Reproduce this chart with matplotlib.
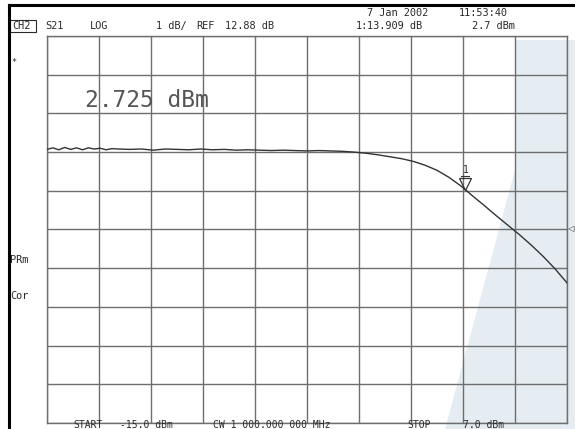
import numpy as np
import matplotlib
matplotlib.use("Agg")
import matplotlib.pyplot as plt
from matplotlib.patches import Polygon, Rectangle
from matplotlib.transforms import ScaledTranslation

# power sweep, CH2 S21 log magnitude
start_dbm = -15.0
stop_dbm = 7.0
ref_db = 12.88
db_per_div = 1.0

power_dbm = [-15.0, -14.75, -14.5, -14.25, -14.0, -13.75, -13.5, -13.25, -13.0,
             -12.75, -12.5, -12.25, -12.0, -11.5, -11.0, -10.5, -10.0, -9.5,
             -9.0, -8.5, -8.0, -7.5, -7.0, -6.5, -6.0, -5.5, -5.0, -4.5, -4.0,
             -3.5, -3.0, -2.5, -2.0, -1.5, -1.0, -0.5, 0.0, 0.5, 1.0, 1.5, 2.0,
             2.5, 2.7, 3.0, 3.5, 4.0, 4.5, 5.0, 5.5, 6.0, 6.5, 7.0]
s21_db = [14.95, 14.99, 14.94, 15.00, 14.95, 14.99, 14.94, 14.99, 14.96,
          14.98, 14.94, 14.97, 14.96, 14.95, 14.96, 14.93, 14.96, 14.95,
          14.94, 14.96, 14.94, 14.95, 14.93, 14.94, 14.93, 14.92, 14.93, 14.92, 14.91,
          14.92, 14.91, 14.90, 14.88, 14.85, 14.81, 14.76, 14.71, 14.64, 14.54, 14.41, 14.23,
          14.01, 13.909, 13.75, 13.50, 13.24, 12.99, 12.74, 12.47, 12.18, 11.86, 11.50]

marker_dbm = 2.7
marker_db = 13.909
readout = "2.725 dBm"

W, H = 575, 429
fig = plt.figure(figsize=(W / 100, H / 100), dpi=100)
fig.patch.set_facecolor("white")


def px(x, y):
    return x / W, 1 - y / H


mono = "DejaVu Sans Mono"
ink = "#2a2a2a"
fs = 7.4


def label(x, y, s, size=fs, **kw):
    fig.text(*px(x, y), s, fontsize=size, family=mono, color=ink,
             va=kw.pop("va", "center"), ha="left", **kw)


# pale band behind the right part of the screen
band = Polygon([px(445, 429), px(575, 429), px(575, 40), px(515, 40), px(515, 170)],
               closed=True, transform=fig.transFigure, facecolor="#e5edf3",
               edgecolor="none", zorder=0)
fig.patches.append(band)

ax = fig.add_axes([47 / W, 1 - 423 / H, 520 / W, 387 / H])
ax.set_zorder(1)
ax.patch.set_alpha(0)
top = ref_db + 5 * db_per_div
bottom = ref_db - 5 * db_per_div
ax.set_xlim(start_dbm, stop_dbm)
ax.set_ylim(bottom, top)
ax.set_xticks(np.linspace(start_dbm, stop_dbm, 11))
ax.set_yticks(np.linspace(bottom, top, 11))
ax.grid(True, color="#6e6e6e", linewidth=1.0)
ax.tick_params(length=0, labelbottom=False, labelleft=False)
for s in ax.spines.values():
    s.set_color("#6e6e6e")
    s.set_linewidth(1.0)

ax.plot(power_dbm, s21_db, color="#333333", linewidth=1.0, zorder=3)

# marker 1: triangle pointing at the trace, bar and number above
lift = ax.transData + ScaledTranslation(0, 4 / 72, fig.dpi_scale_trans)
ax.plot([marker_dbm], [marker_db], marker="v", markersize=8,
        markerfacecolor="none", markeredgecolor="#333333", markeredgewidth=0.9,
        transform=lift, zorder=4)
bar_y = marker_db + 14 / 38.7 * db_per_div
ax.plot([marker_dbm - 0.17, marker_dbm + 0.17], [bar_y, bar_y],
        color="#333333", linewidth=0.8, zorder=4)
ax.annotate("1", (marker_dbm, bar_y), xytext=(0, 0.5), textcoords="offset points",
            ha="center", va="bottom", fontsize=7, family=mono, color=ink)

# large readout
ax.text(-13.39, top - 1.66, readout, fontsize=16.5, family=mono, color="#555555",
        va="center", ha="left")

# screen frame
fig.lines.append(plt.Line2D([px(9, 0)[0], 1], [px(0, 5)[1]] * 2,
                            transform=fig.transFigure, color="black", linewidth=2.2))
fig.lines.append(plt.Line2D([px(9, 0)[0]] * 2, [px(0, 5)[1], 0],
                            transform=fig.transFigure, color="black", linewidth=2.2))

# status lines
for x, s in [(367, "7 Jan 2002"), (459, "11:53:40")]:
    label(x, 13, s)
for x, s in [(12, "CH2"), (45, "S21"), (90, "LOG"), (156, "1 dB/"), (196, "REF"),
             (225, "12.88 dB"), (356, "1:"), (367, "13.909 dB"), (472, "2.7 dBm")]:
    label(x, 26, s)
fig.patches.append(Rectangle(px(10, 32), 26 / W, 12 / H, transform=fig.transFigure,
                             fill=False, edgecolor=ink, linewidth=0.8))

label(11, 63, "*", size=6)
label(10, 260, "PRm")
label(10, 296, "Cor")

# reference level pointer
fig.text(*px(567, 229), "\u25c1", fontsize=6, color=ink, va="center", ha="left")

for x, s in [(73, "START"), (120, "-15.0 dBm"), (213, "CW 1 000.000 000 MHz"),
             (407, "STOP"), (463, "7.0 dBm")]:
    label(x, 429.5, s, size=7, va="bottom")

fig.savefig("out.png", dpi=100)
